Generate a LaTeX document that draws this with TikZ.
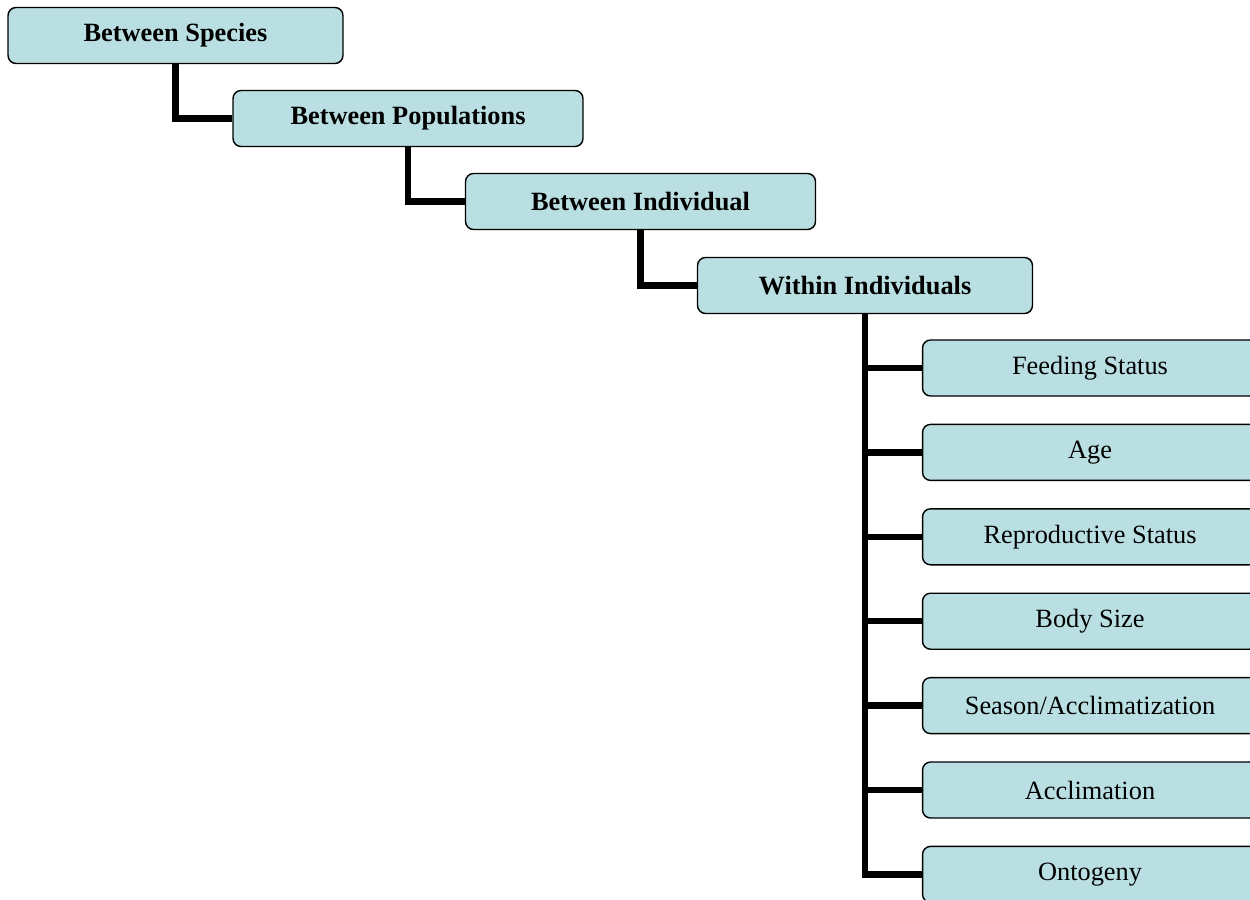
\documentclass[tikz,border=0pt]{standalone}
\usepackage{fontspec}
\setmainfont{Liberation Serif}
\usepackage{tikz}
\usetikzlibrary{trees}

\definecolor{boxfill}{RGB}{186,223,227}
\tikzset{
  box/.style={rectangle,draw,fill=boxfill,rounded corners=0.16cm,line width=0.8pt,
    minimum width=6.7cm,minimum height=1.12cm,inner sep=0pt,
    font=\fontsize{15pt}{18pt}\selectfont},
  topbox/.style={box,font=\fontsize{15pt}{18pt}\selectfont\bfseries},
  widebox/.style={topbox,minimum width=7cm}
}

\begin{document}
\begin{tikzpicture}[x=0.02cm,y=-0.02cm,
  level 1/.style={grow via three points={one child at (232.5,83) and two children at (232.5,83) and (232.5,166)}},
  level 2/.style={grow via three points={one child at (232.5,83) and two children at (232.5,83) and (232.5,166)}},
  level 3/.style={grow via three points={one child at (224.5,84) and two children at (224.5,84) and (224.5,168)}},
  level 4/.style={grow via three points={one child at (225,82.5) and two children at (225,82.5) and (225,166.9)}},
  edge from parent/.style={draw,line width=3.7pt},
  edge from parent path={(\tikzparentnode.south) |- (\tikzchildnode.west)}]
\useasboundingbox (0,0) rectangle (1250,899);
\clip (0,0) rectangle (1250,899);
\node [topbox] (species) at (175.5,35.5) {Between Species}
  child {
  node [widebox] (populations) {Between Populations}
    child {
    node [widebox] (individual) {Between Individual}
      child {
      node [topbox] (within) {Within Individuals}
        child { node [box] (feeding) {Feeding Status} }
        child { node [box] (age) {Age} }
        child { node [box] (reproductive) {Reproductive Status} }
        child { node [box] (bodysize) {Body Size} }
        child { node [box] (season) {Season/Acclimatization} }
        child { node [box] (acclimation) {Acclimation} }
        child { node [box] (ontogeny) {Ontogeny} }
      }
    }
  };
\end{tikzpicture}
\end{document}
